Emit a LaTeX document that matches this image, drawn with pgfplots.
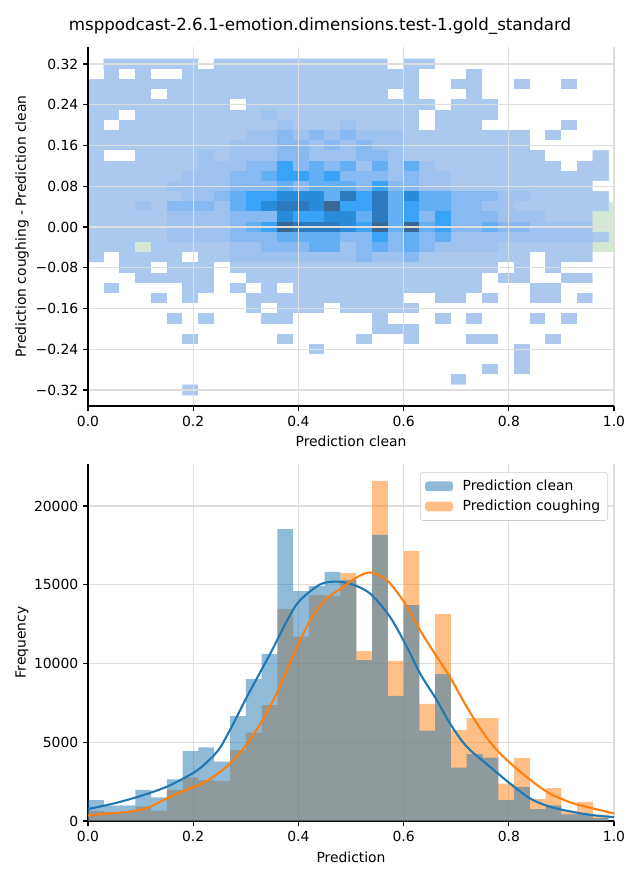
\documentclass[border=0pt]{standalone}
\usepackage{pgfplots}
\pgfplotsset{compat=1.18}
\usepackage{fontspec}
\setmainfont{DejaVu Sans}
\definecolor{c0}{HTML}{1F77B4}
\definecolor{c1}{HTML}{FF7F0E}
\definecolor{gridc}{RGB}{222,222,222}
\definecolor{dgreen}{HTML}{008000}
\definecolor{lgreen}{RGB}{213,232,211}
\definecolor{legb}{RGB}{143,187,217}
\definecolor{lego}{RGB}{255,191,134}
\pgfplotsset{
  base/.style={
    scale only axis, width=378.72pt,
    xmin=0, xmax=1,
    axis x line*=bottom, axis y line*=left,
    tick align=outside, major tick length=3.5pt,
    every tick/.style={black, line width=0.8pt},
    axis line style={line width=0.8pt, black},
    xmajorgrids, ymajorgrids, grid style={gridc, line width=0.8pt},
    tick label style={font=\fontsize{10}{12}\selectfont},
    label style={font=\fontsize{10}{12}\selectfont},
    scaled y ticks=false, scaled x ticks=false,
    xtick={0,0.2,0.4,0.6,0.8,1},
    xticklabels={0.0,0.2,0.4,0.6,0.8,1.0},
    every axis x label/.style={anchor=center},
    every axis y label/.style={anchor=center, rotate=90},
  }
}
\begin{document}
\begin{tikzpicture}
\useasboundingbox (-63.36pt,33.84pt) rectangle (397.44pt,-599.76pt);
\node[font=\fontsize{12}{14}\selectfont, inner sep=0pt] at (167.04pt,15.12pt) {msppodcast-2.6.1-emotion.dimensions.test-1.gold\_standard};
\begin{axis}[base, at={(0pt,0pt)}, anchor=north west, height=258.48pt,
  ymin=-0.3514, ymax=0.3534, axis on top,
  ytick={-0.32,-0.24,-0.16,-0.08,0,0.08,0.16,0.24,0.32},
  yticklabels={−0.32,−0.24,−0.16,−0.08,0.00,0.08,0.16,0.24,0.32},
  xlabel={Prediction clean}, ylabel={Prediction coughing - Prediction clean},
  xlabel style={at={(axis description cs:0.5,-0.0975)}},
  ylabel style={at={(axis description cs:-0.1255,0.5)}},
  colormap={hm}{rgb255=(255,255,255) rgb255=(171,201,238) rgb255=(158,195,240) rgb255=(135,186,242) rgb255=(100,174,244) rgb255=(58,163,246) rgb255=(42,140,216) rgb255=(45,121,190) rgb255=(58,104,150) rgb255=(213,232,211)},
]
\addplot[fill=lgreen, draw=none] coordinates {(0.99,-0.05) (1,-0.05) (1,0.05) (0.99,0.05)} -- cycle;
\addplot[matrix plot*, point meta=explicit, colormap access=direct, mesh/cols=33] table[meta index=2] {
x y c
0.015 0.32 0
0.045 0.32 1
0.075 0.32 1
0.105 0.32 1
0.135 0.32 1
0.165 0.32 1
0.195 0.32 1
0.225 0.32 0
0.255 0.32 1
0.285 0.32 1
0.315 0.32 1
0.345 0.32 1
0.375 0.32 1
0.405 0.32 1
0.435 0.32 1
0.465 0.32 1
0.495 0.32 1
0.525 0.32 1
0.555 0.32 1
0.585 0.32 0
0.615 0.32 1
0.645 0.32 1
0.675 0.32 0
0.705 0.32 0
0.735 0.32 0
0.765 0.32 0
0.795 0.32 0
0.825 0.32 0
0.855 0.32 0
0.885 0.32 0
0.915 0.32 0
0.945 0.32 0
0.975 0.32 0

0.015 0.30 0
0.045 0.30 1
0.075 0.30 0
0.105 0.30 1
0.135 0.30 0
0.165 0.30 0
0.195 0.30 1
0.225 0.30 1
0.255 0.30 1
0.285 0.30 1
0.315 0.30 1
0.345 0.30 1
0.375 0.30 1
0.405 0.30 1
0.435 0.30 1
0.465 0.30 1
0.495 0.30 1
0.525 0.30 1
0.555 0.30 1
0.585 0.30 1
0.615 0.30 1
0.645 0.30 0
0.675 0.30 0
0.705 0.30 0
0.735 0.30 1
0.765 0.30 0
0.795 0.30 0
0.825 0.30 0
0.855 0.30 0
0.885 0.30 0
0.915 0.30 0
0.945 0.30 0
0.975 0.30 0

0.015 0.28 1
0.045 0.28 1
0.075 0.28 1
0.105 0.28 1
0.135 0.28 1
0.165 0.28 1
0.195 0.28 1
0.225 0.28 1
0.255 0.28 1
0.285 0.28 1
0.315 0.28 1
0.345 0.28 1
0.375 0.28 1
0.405 0.28 1
0.435 0.28 1
0.465 0.28 1
0.495 0.28 1
0.525 0.28 1
0.555 0.28 1
0.585 0.28 1
0.615 0.28 1
0.645 0.28 0
0.675 0.28 0
0.705 0.28 1
0.735 0.28 1
0.765 0.28 0
0.795 0.28 0
0.825 0.28 1
0.855 0.28 0
0.885 0.28 0
0.915 0.28 1
0.945 0.28 0
0.975 0.28 0

0.015 0.26 1
0.045 0.26 1
0.075 0.26 1
0.105 0.26 1
0.135 0.26 0
0.165 0.26 1
0.195 0.26 1
0.225 0.26 1
0.255 0.26 1
0.285 0.26 1
0.315 0.26 1
0.345 0.26 1
0.375 0.26 1
0.405 0.26 1
0.435 0.26 1
0.465 0.26 1
0.495 0.26 1
0.525 0.26 1
0.555 0.26 1
0.585 0.26 0
0.615 0.26 1
0.645 0.26 0
0.675 0.26 0
0.705 0.26 0
0.735 0.26 1
0.765 0.26 0
0.795 0.26 0
0.825 0.26 0
0.855 0.26 0
0.885 0.26 0
0.915 0.26 0
0.945 0.26 0
0.975 0.26 0

0.015 0.24 1
0.045 0.24 1
0.075 0.24 1
0.105 0.24 1
0.135 0.24 1
0.165 0.24 1
0.195 0.24 1
0.225 0.24 1
0.255 0.24 1
0.285 0.24 0
0.315 0.24 1
0.345 0.24 1
0.375 0.24 1
0.405 0.24 1
0.435 0.24 1
0.465 0.24 1
0.495 0.24 1
0.525 0.24 1
0.555 0.24 1
0.585 0.24 1
0.615 0.24 1
0.645 0.24 1
0.675 0.24 0
0.705 0.24 1
0.735 0.24 1
0.765 0.24 1
0.795 0.24 0
0.825 0.24 0
0.855 0.24 0
0.885 0.24 0
0.915 0.24 0
0.945 0.24 0
0.975 0.24 0

0.015 0.22 1
0.045 0.22 1
0.075 0.22 0
0.105 0.22 1
0.135 0.22 1
0.165 0.22 1
0.195 0.22 1
0.225 0.22 1
0.255 0.22 1
0.285 0.22 1
0.315 0.22 1
0.345 0.22 2
0.375 0.22 1
0.405 0.22 1
0.435 0.22 1
0.465 0.22 1
0.495 0.22 1
0.525 0.22 1
0.555 0.22 1
0.585 0.22 1
0.615 0.22 1
0.645 0.22 0
0.675 0.22 1
0.705 0.22 1
0.735 0.22 1
0.765 0.22 1
0.795 0.22 0
0.825 0.22 0
0.855 0.22 0
0.885 0.22 0
0.915 0.22 0
0.945 0.22 0
0.975 0.22 0

0.015 0.20 1
0.045 0.20 0
0.075 0.20 1
0.105 0.20 1
0.135 0.20 1
0.165 0.20 1
0.195 0.20 1
0.225 0.20 1
0.255 0.20 1
0.285 0.20 1
0.315 0.20 1
0.345 0.20 1
0.375 0.20 2
0.405 0.20 1
0.435 0.20 1
0.465 0.20 1
0.495 0.20 2
0.525 0.20 1
0.555 0.20 1
0.585 0.20 1
0.615 0.20 1
0.645 0.20 0
0.675 0.20 1
0.705 0.20 1
0.735 0.20 1
0.765 0.20 0
0.795 0.20 0
0.825 0.20 0
0.855 0.20 0
0.885 0.20 0
0.915 0.20 1
0.945 0.20 0
0.975 0.20 0

0.015 0.18 1
0.045 0.18 1
0.075 0.18 1
0.105 0.18 1
0.135 0.18 1
0.165 0.18 1
0.195 0.18 1
0.225 0.18 1
0.255 0.18 1
0.285 0.18 1
0.315 0.18 2
0.345 0.18 2
0.375 0.18 3
0.405 0.18 2
0.435 0.18 3
0.465 0.18 2
0.495 0.18 3
0.525 0.18 2
0.555 0.18 2
0.585 0.18 2
0.615 0.18 1
0.645 0.18 1
0.675 0.18 1
0.705 0.18 1
0.735 0.18 1
0.765 0.18 1
0.795 0.18 1
0.825 0.18 1
0.855 0.18 0
0.885 0.18 1
0.915 0.18 0
0.945 0.18 0
0.975 0.18 0

0.015 0.16 1
0.045 0.16 1
0.075 0.16 1
0.105 0.16 1
0.135 0.16 1
0.165 0.16 1
0.195 0.16 1
0.225 0.16 1
0.255 0.16 1
0.285 0.16 2
0.315 0.16 2
0.345 0.16 2
0.375 0.16 3
0.405 0.16 3
0.435 0.16 2
0.465 0.16 3
0.495 0.16 2
0.525 0.16 3
0.555 0.16 2
0.585 0.16 2
0.615 0.16 1
0.645 0.16 1
0.675 0.16 1
0.705 0.16 1
0.735 0.16 1
0.765 0.16 1
0.795 0.16 1
0.825 0.16 1
0.855 0.16 0
0.885 0.16 0
0.915 0.16 0
0.945 0.16 0
0.975 0.16 0

0.015 0.14 1
0.045 0.14 0
0.075 0.14 0
0.105 0.14 1
0.135 0.14 1
0.165 0.14 1
0.195 0.14 1
0.225 0.14 2
0.255 0.14 1
0.285 0.14 2
0.315 0.14 2
0.345 0.14 2
0.375 0.14 3
0.405 0.14 3
0.435 0.14 2
0.465 0.14 2
0.495 0.14 2
0.525 0.14 3
0.555 0.14 3
0.585 0.14 2
0.615 0.14 1
0.645 0.14 1
0.675 0.14 1
0.705 0.14 1
0.735 0.14 1
0.765 0.14 1
0.795 0.14 1
0.825 0.14 1
0.855 0.14 1
0.885 0.14 0
0.915 0.14 0
0.945 0.14 0
0.975 0.14 1

0.015 0.12 1
0.045 0.12 1
0.075 0.12 1
0.105 0.12 1
0.135 0.12 1
0.165 0.12 1
0.195 0.12 1
0.225 0.12 2
0.255 0.12 2
0.285 0.12 2
0.315 0.12 3
0.345 0.12 3
0.375 0.12 5
0.405 0.12 3
0.435 0.12 4
0.465 0.12 3
0.495 0.12 4
0.525 0.12 2
0.555 0.12 4
0.585 0.12 2
0.615 0.12 4
0.645 0.12 2
0.675 0.12 1
0.705 0.12 1
0.735 0.12 1
0.765 0.12 1
0.795 0.12 1
0.825 0.12 1
0.855 0.12 1
0.885 0.12 1
0.915 0.12 0
0.945 0.12 1
0.975 0.12 1

0.015 0.10 1
0.045 0.10 1
0.075 0.10 1
0.105 0.10 1
0.135 0.10 1
0.165 0.10 1
0.195 0.10 2
0.225 0.10 2
0.255 0.10 2
0.285 0.10 3
0.315 0.10 3
0.345 0.10 4
0.375 0.10 5
0.405 0.10 5
0.435 0.10 4
0.465 0.10 5
0.495 0.10 3
0.525 0.10 3
0.555 0.10 3
0.585 0.10 2
0.615 0.10 3
0.645 0.10 2
0.675 0.10 2
0.705 0.10 1
0.735 0.10 1
0.765 0.10 1
0.795 0.10 1
0.825 0.10 1
0.855 0.10 1
0.885 0.10 1
0.915 0.10 1
0.945 0.10 1
0.975 0.10 1

0.015 0.08 1
0.045 0.08 1
0.075 0.08 1
0.105 0.08 1
0.135 0.08 1
0.165 0.08 2
0.195 0.08 2
0.225 0.08 2
0.255 0.08 2
0.285 0.08 3
0.315 0.08 3
0.345 0.08 3
0.375 0.08 4
0.405 0.08 3
0.435 0.08 4
0.465 0.08 4
0.495 0.08 4
0.525 0.08 3
0.555 0.08 5
0.585 0.08 3
0.615 0.08 3
0.645 0.08 2
0.675 0.08 2
0.705 0.08 1
0.735 0.08 1
0.765 0.08 1
0.795 0.08 1
0.825 0.08 1
0.855 0.08 1
0.885 0.08 1
0.915 0.08 1
0.945 0.08 1
0.975 0.08 0

0.015 0.06 1
0.045 0.06 1
0.075 0.06 1
0.105 0.06 1
0.135 0.06 1
0.165 0.06 1
0.195 0.06 2
0.225 0.06 2
0.255 0.06 3
0.285 0.06 4
0.315 0.06 5
0.345 0.06 5
0.375 0.06 6
0.405 0.06 6
0.435 0.06 6
0.465 0.06 4
0.495 0.06 7
0.525 0.06 5
0.555 0.06 7
0.585 0.06 4
0.615 0.06 6
0.645 0.06 4
0.675 0.06 4
0.705 0.06 3
0.735 0.06 3
0.765 0.06 3
0.795 0.06 2
0.825 0.06 2
0.855 0.06 1
0.885 0.06 1
0.915 0.06 1
0.945 0.06 1
0.975 0.06 1

0.015 0.04 1
0.045 0.04 1
0.075 0.04 1
0.105 0.04 2
0.135 0.04 1
0.165 0.04 3
0.195 0.04 3
0.225 0.04 3
0.255 0.04 2
0.285 0.04 4
0.315 0.04 5
0.345 0.04 6
0.375 0.04 7
0.405 0.04 7
0.435 0.04 6
0.465 0.04 8
0.495 0.04 5
0.525 0.04 5
0.555 0.04 7
0.585 0.04 4
0.615 0.04 5
0.645 0.04 4
0.675 0.04 4
0.705 0.04 3
0.735 0.04 3
0.765 0.04 2
0.795 0.04 2
0.825 0.04 1
0.855 0.04 1
0.885 0.04 1
0.915 0.04 1
0.945 0.04 1
0.975 0.04 1

0.015 0.02 1
0.045 0.02 1
0.075 0.02 1
0.105 0.02 1
0.135 0.02 1
0.165 0.02 2
0.195 0.02 2
0.225 0.02 2
0.255 0.02 2
0.285 0.02 3
0.315 0.02 3
0.345 0.02 3
0.375 0.02 6
0.405 0.02 5
0.435 0.02 5
0.465 0.02 6
0.495 0.02 6
0.525 0.02 4
0.555 0.02 7
0.585 0.02 4
0.615 0.02 5
0.645 0.02 3
0.675 0.02 5
0.705 0.02 3
0.735 0.02 3
0.765 0.02 3
0.795 0.02 2
0.825 0.02 2
0.855 0.02 2
0.885 0.02 1
0.915 0.02 1
0.945 0.02 1
0.975 0.02 9

0.015 0 1
0.045 0 1
0.075 0 1
0.105 0 1
0.135 0 1
0.165 0 2
0.195 0 2
0.225 0 2
0.255 0 2
0.285 0 3
0.315 0 4
0.345 0 5
0.375 0 8
0.405 0 7
0.435 0 7
0.465 0 7
0.495 0 6
0.525 0 5
0.555 0 8
0.585 0 4
0.615 0 8
0.645 0 4
0.675 0 5
0.705 0 3
0.735 0 3
0.765 0 4
0.795 0 3
0.825 0 3
0.855 0 2
0.885 0 2
0.915 0 2
0.945 0 2
0.975 0 9

0.015 -0.02 1
0.045 -0.02 1
0.075 -0.02 1
0.105 -0.02 1
0.135 -0.02 1
0.165 -0.02 2
0.195 -0.02 2
0.225 -0.02 2
0.255 -0.02 2
0.285 -0.02 3
0.315 -0.02 3
0.345 -0.02 3
0.375 -0.02 4
0.405 -0.02 4
0.435 -0.02 4
0.465 -0.02 4
0.495 -0.02 3
0.525 -0.02 3
0.555 -0.02 5
0.585 -0.02 3
0.615 -0.02 4
0.645 -0.02 3
0.675 -0.02 4
0.705 -0.02 2
0.735 -0.02 2
0.765 -0.02 2
0.795 -0.02 2
0.825 -0.02 2
0.855 -0.02 2
0.885 -0.02 2
0.915 -0.02 2
0.945 -0.02 2
0.975 -0.02 1

0.015 -0.04 1
0.045 -0.04 1
0.075 -0.04 1
0.105 -0.04 9
0.135 -0.04 1
0.165 -0.04 1
0.195 -0.04 1
0.225 -0.04 1
0.255 -0.04 1
0.285 -0.04 2
0.315 -0.04 2
0.345 -0.04 3
0.375 -0.04 3
0.405 -0.04 3
0.435 -0.04 4
0.465 -0.04 4
0.495 -0.04 2
0.525 -0.04 3
0.555 -0.04 4
0.585 -0.04 3
0.615 -0.04 4
0.645 -0.04 3
0.675 -0.04 2
0.705 -0.04 2
0.735 -0.04 2
0.765 -0.04 2
0.795 -0.04 1
0.825 -0.04 1
0.855 -0.04 1
0.885 -0.04 1
0.915 -0.04 1
0.945 -0.04 1
0.975 -0.04 9

0.015 -0.06 1
0.045 -0.06 0
0.075 -0.06 1
0.105 -0.06 1
0.135 -0.06 1
0.165 -0.06 1
0.195 -0.06 0
0.225 -0.06 1
0.255 -0.06 1
0.285 -0.06 2
0.315 -0.06 2
0.345 -0.06 2
0.375 -0.06 2
0.405 -0.06 2
0.435 -0.06 2
0.465 -0.06 2
0.495 -0.06 2
0.525 -0.06 3
0.555 -0.06 2
0.585 -0.06 2
0.615 -0.06 3
0.645 -0.06 1
0.675 -0.06 1
0.705 -0.06 1
0.735 -0.06 1
0.765 -0.06 1
0.795 -0.06 1
0.825 -0.06 1
0.855 -0.06 0
0.885 -0.06 1
0.915 -0.06 1
0.945 -0.06 1
0.975 -0.06 0

0.015 -0.08 0
0.045 -0.08 0
0.075 -0.08 1
0.105 -0.08 1
0.135 -0.08 0
0.165 -0.08 1
0.195 -0.08 1
0.225 -0.08 1
0.255 -0.08 0
0.285 -0.08 1
0.315 -0.08 1
0.345 -0.08 1
0.375 -0.08 1
0.405 -0.08 1
0.435 -0.08 1
0.465 -0.08 1
0.495 -0.08 1
0.525 -0.08 1
0.555 -0.08 1
0.585 -0.08 1
0.615 -0.08 1
0.645 -0.08 1
0.675 -0.08 1
0.705 -0.08 1
0.735 -0.08 1
0.765 -0.08 1
0.795 -0.08 0
0.825 -0.08 1
0.855 -0.08 0
0.885 -0.08 1
0.915 -0.08 0
0.945 -0.08 0
0.975 -0.08 0

0.015 -0.10 0
0.045 -0.10 0
0.075 -0.10 0
0.105 -0.10 1
0.135 -0.10 1
0.165 -0.10 1
0.195 -0.10 1
0.225 -0.10 1
0.255 -0.10 0
0.285 -0.10 0
0.315 -0.10 1
0.345 -0.10 1
0.375 -0.10 1
0.405 -0.10 1
0.435 -0.10 1
0.465 -0.10 1
0.495 -0.10 1
0.525 -0.10 1
0.555 -0.10 1
0.585 -0.10 1
0.615 -0.10 1
0.645 -0.10 1
0.675 -0.10 1
0.705 -0.10 1
0.735 -0.10 1
0.765 -0.10 0
0.795 -0.10 1
0.825 -0.10 1
0.855 -0.10 0
0.885 -0.10 0
0.915 -0.10 1
0.945 -0.10 1
0.975 -0.10 0

0.015 -0.12 0
0.045 -0.12 1
0.075 -0.12 0
0.105 -0.12 0
0.135 -0.12 0
0.165 -0.12 0
0.195 -0.12 1
0.225 -0.12 1
0.255 -0.12 0
0.285 -0.12 1
0.315 -0.12 0
0.345 -0.12 1
0.375 -0.12 0
0.405 -0.12 1
0.435 -0.12 1
0.465 -0.12 1
0.495 -0.12 1
0.525 -0.12 1
0.555 -0.12 1
0.585 -0.12 1
0.615 -0.12 1
0.645 -0.12 1
0.675 -0.12 1
0.705 -0.12 1
0.735 -0.12 1
0.765 -0.12 0
0.795 -0.12 0
0.825 -0.12 0
0.855 -0.12 1
0.885 -0.12 1
0.915 -0.12 0
0.945 -0.12 0
0.975 -0.12 0

0.015 -0.14 0
0.045 -0.14 0
0.075 -0.14 0
0.105 -0.14 0
0.135 -0.14 1
0.165 -0.14 0
0.195 -0.14 1
0.225 -0.14 0
0.255 -0.14 0
0.285 -0.14 0
0.315 -0.14 1
0.345 -0.14 1
0.375 -0.14 1
0.405 -0.14 1
0.435 -0.14 1
0.465 -0.14 1
0.495 -0.14 1
0.525 -0.14 1
0.555 -0.14 1
0.585 -0.14 1
0.615 -0.14 0
0.645 -0.14 0
0.675 -0.14 1
0.705 -0.14 1
0.735 -0.14 0
0.765 -0.14 1
0.795 -0.14 0
0.825 -0.14 0
0.855 -0.14 1
0.885 -0.14 1
0.915 -0.14 0
0.945 -0.14 1
0.975 -0.14 0

0.015 -0.16 0
0.045 -0.16 0
0.075 -0.16 0
0.105 -0.16 0
0.135 -0.16 0
0.165 -0.16 0
0.195 -0.16 0
0.225 -0.16 0
0.255 -0.16 0
0.285 -0.16 0
0.315 -0.16 1
0.345 -0.16 0
0.375 -0.16 1
0.405 -0.16 1
0.435 -0.16 1
0.465 -0.16 0
0.495 -0.16 1
0.525 -0.16 1
0.555 -0.16 1
0.585 -0.16 1
0.615 -0.16 1
0.645 -0.16 0
0.675 -0.16 0
0.705 -0.16 0
0.735 -0.16 0
0.765 -0.16 0
0.795 -0.16 0
0.825 -0.16 0
0.855 -0.16 0
0.885 -0.16 0
0.915 -0.16 0
0.945 -0.16 0
0.975 -0.16 0

0.015 -0.18 0
0.045 -0.18 0
0.075 -0.18 0
0.105 -0.18 0
0.135 -0.18 0
0.165 -0.18 1
0.195 -0.18 0
0.225 -0.18 1
0.255 -0.18 0
0.285 -0.18 0
0.315 -0.18 0
0.345 -0.18 1
0.375 -0.18 1
0.405 -0.18 0
0.435 -0.18 0
0.465 -0.18 0
0.495 -0.18 0
0.525 -0.18 0
0.555 -0.18 1
0.585 -0.18 0
0.615 -0.18 0
0.645 -0.18 0
0.675 -0.18 1
0.705 -0.18 0
0.735 -0.18 1
0.765 -0.18 0
0.795 -0.18 0
0.825 -0.18 0
0.855 -0.18 1
0.885 -0.18 0
0.915 -0.18 1
0.945 -0.18 0
0.975 -0.18 0

0.015 -0.20 0
0.045 -0.20 0
0.075 -0.20 0
0.105 -0.20 0
0.135 -0.20 0
0.165 -0.20 0
0.195 -0.20 0
0.225 -0.20 0
0.255 -0.20 0
0.285 -0.20 0
0.315 -0.20 0
0.345 -0.20 0
0.375 -0.20 0
0.405 -0.20 0
0.435 -0.20 0
0.465 -0.20 0
0.495 -0.20 0
0.525 -0.20 0
0.555 -0.20 1
0.585 -0.20 1
0.615 -0.20 1
0.645 -0.20 0
0.675 -0.20 0
0.705 -0.20 0
0.735 -0.20 0
0.765 -0.20 0
0.795 -0.20 0
0.825 -0.20 0
0.855 -0.20 0
0.885 -0.20 0
0.915 -0.20 0
0.945 -0.20 0
0.975 -0.20 0

0.015 -0.22 0
0.045 -0.22 0
0.075 -0.22 0
0.105 -0.22 0
0.135 -0.22 0
0.165 -0.22 0
0.195 -0.22 1
0.225 -0.22 0
0.255 -0.22 0
0.285 -0.22 0
0.315 -0.22 0
0.345 -0.22 0
0.375 -0.22 1
0.405 -0.22 0
0.435 -0.22 0
0.465 -0.22 0
0.495 -0.22 0
0.525 -0.22 1
0.555 -0.22 0
0.585 -0.22 0
0.615 -0.22 1
0.645 -0.22 0
0.675 -0.22 0
0.705 -0.22 0
0.735 -0.22 1
0.765 -0.22 1
0.795 -0.22 0
0.825 -0.22 0
0.855 -0.22 0
0.885 -0.22 1
0.915 -0.22 0
0.945 -0.22 0
0.975 -0.22 0

0.015 -0.24 0
0.045 -0.24 0
0.075 -0.24 0
0.105 -0.24 0
0.135 -0.24 0
0.165 -0.24 0
0.195 -0.24 0
0.225 -0.24 0
0.255 -0.24 0
0.285 -0.24 0
0.315 -0.24 0
0.345 -0.24 0
0.375 -0.24 0
0.405 -0.24 0
0.435 -0.24 1
0.465 -0.24 0
0.495 -0.24 0
0.525 -0.24 0
0.555 -0.24 0
0.585 -0.24 0
0.615 -0.24 0
0.645 -0.24 0
0.675 -0.24 0
0.705 -0.24 0
0.735 -0.24 0
0.765 -0.24 0
0.795 -0.24 0
0.825 -0.24 1
0.855 -0.24 0
0.885 -0.24 0
0.915 -0.24 0
0.945 -0.24 0
0.975 -0.24 0

0.015 -0.26 0
0.045 -0.26 0
0.075 -0.26 0
0.105 -0.26 0
0.135 -0.26 0
0.165 -0.26 0
0.195 -0.26 0
0.225 -0.26 0
0.255 -0.26 0
0.285 -0.26 0
0.315 -0.26 0
0.345 -0.26 0
0.375 -0.26 0
0.405 -0.26 0
0.435 -0.26 0
0.465 -0.26 0
0.495 -0.26 0
0.525 -0.26 0
0.555 -0.26 0
0.585 -0.26 0
0.615 -0.26 0
0.645 -0.26 0
0.675 -0.26 0
0.705 -0.26 0
0.735 -0.26 0
0.765 -0.26 0
0.795 -0.26 0
0.825 -0.26 1
0.855 -0.26 0
0.885 -0.26 0
0.915 -0.26 0
0.945 -0.26 0
0.975 -0.26 0

0.015 -0.28 0
0.045 -0.28 0
0.075 -0.28 0
0.105 -0.28 0
0.135 -0.28 0
0.165 -0.28 0
0.195 -0.28 0
0.225 -0.28 0
0.255 -0.28 0
0.285 -0.28 0
0.315 -0.28 0
0.345 -0.28 0
0.375 -0.28 0
0.405 -0.28 0
0.435 -0.28 0
0.465 -0.28 0
0.495 -0.28 0
0.525 -0.28 0
0.555 -0.28 0
0.585 -0.28 0
0.615 -0.28 0
0.645 -0.28 0
0.675 -0.28 0
0.705 -0.28 0
0.735 -0.28 0
0.765 -0.28 1
0.795 -0.28 0
0.825 -0.28 1
0.855 -0.28 0
0.885 -0.28 0
0.915 -0.28 0
0.945 -0.28 0
0.975 -0.28 0

0.015 -0.30 0
0.045 -0.30 0
0.075 -0.30 0
0.105 -0.30 0
0.135 -0.30 0
0.165 -0.30 0
0.195 -0.30 0
0.225 -0.30 0
0.255 -0.30 0
0.285 -0.30 0
0.315 -0.30 0
0.345 -0.30 0
0.375 -0.30 0
0.405 -0.30 0
0.435 -0.30 0
0.465 -0.30 0
0.495 -0.30 0
0.525 -0.30 0
0.555 -0.30 0
0.585 -0.30 0
0.615 -0.30 0
0.645 -0.30 0
0.675 -0.30 0
0.705 -0.30 1
0.735 -0.30 0
0.765 -0.30 0
0.795 -0.30 0
0.825 -0.30 0
0.855 -0.30 0
0.885 -0.30 0
0.915 -0.30 0
0.945 -0.30 0
0.975 -0.30 0

0.015 -0.32 0
0.045 -0.32 0
0.075 -0.32 0
0.105 -0.32 0
0.135 -0.32 0
0.165 -0.32 0
0.195 -0.32 1
0.225 -0.32 0
0.255 -0.32 0
0.285 -0.32 0
0.315 -0.32 0
0.345 -0.32 0
0.375 -0.32 0
0.405 -0.32 0
0.435 -0.32 0
0.465 -0.32 0
0.495 -0.32 0
0.525 -0.32 0
0.555 -0.32 0
0.585 -0.32 0
0.615 -0.32 0
0.645 -0.32 0
0.675 -0.32 0
0.705 -0.32 0
0.735 -0.32 0
0.765 -0.32 0
0.795 -0.32 0
0.825 -0.32 0
0.855 -0.32 0
0.885 -0.32 0
0.915 -0.32 0
0.945 -0.32 0
0.975 -0.32 0
};
\addplot[dgreen, line width=1.5pt, dash pattern=on 5.55pt off 2.4pt] coordinates {(0,0) (1,0)};
\end{axis}

\begin{axis}[base, at={(0pt,-300.24pt)}, anchor=north west, height=257.04pt,
  ymin=0, ymax=22667,
  ytick={0,5000,10000,15000,20000}, yticklabels={0,5000,10000,15000,20000},
  xlabel={Prediction}, ylabel={Frequency},
  xlabel style={at={(axis description cs:0.5,-0.1008)}},
  ylabel style={at={(axis description cs:-0.1255,0.5)}},
  legend cell align=left,
  legend image code/.code={\fill[#1] (0pt,-3.5pt) rectangle (20pt,3.5pt);},
  legend style={at={(1,1)}, anchor=north east, xshift=-4.3pt, yshift=-5.8pt,
    draw=black!20, rounded corners=2pt, fill=white,
    font=\fontsize{10}{12}\selectfont, row sep=1.5pt, column sep=5pt,
    inner xsep=3.5pt, inner ysep=3.5pt},
]
\addlegendimage{fill=legb, draw=none}
\addlegendentry{Prediction clean}
\addlegendimage{fill=lego, draw=none}
\addlegendentry{Prediction coughing}
\addplot[const plot, fill=c1, fill opacity=0.5, draw=none, forget plot] coordinates {
(0.00,620) (0.03,560) (0.06,600) (0.09,930) (0.12,655) (0.15,1968) (0.18,2772) (0.21,2603)
(0.24,2540) (0.27,4508) (0.30,5608) (0.33,7365) (0.36,13460) (0.39,11703) (0.42,14349)
(0.45,14300) (0.48,15740) (0.51,10790) (0.54,21590) (0.57,10160) (0.60,17143) (0.63,7429)
(0.66,13143) (0.69,5778) (0.72,6540) (0.75,6540) (0.78,2370) (0.81,4010) (0.84,1390)
(0.87,2085) (0.90,620) (0.93,1220) (0.96,400) (0.99,400)} \closedcycle;
\addplot[const plot, fill=c0, fill opacity=0.5, draw=none, forget plot] coordinates {
(0.00,1330) (0.03,980) (0.06,1000) (0.09,1970) (0.12,1500) (0.15,2646) (0.18,4444) (0.21,4677)
(0.24,3767) (0.27,6667) (0.30,9016) (0.33,10603) (0.36,18540) (0.39,14603) (0.42,14920)
(0.45,15810) (0.48,15300) (0.51,10220) (0.54,18160) (0.57,7940) (0.60,13714) (0.63,5735)
(0.66,9333) (0.69,3386) (0.72,4254) (0.75,4021) (0.78,1333) (0.81,2160) (0.84,762)
(0.87,1000) (0.90,420) (0.93,430) (0.96,180) (0.99,180)} \closedcycle;
\addplot[c0, line width=1.5pt, smooth, forget plot] coordinates {
(0.00,760) (0.05,1120) (0.10,1590) (0.15,2180) (0.20,3050) (0.225,3700) (0.25,4600)
(0.275,6100) (0.30,7750) (0.325,9300) (0.35,10850) (0.375,12500) (0.40,13900)
(0.44,15000) (0.47,15200) (0.50,15050) (0.536,14450)
(0.574,12970) (0.606,11070) (0.631,9380) (0.663,7680) (0.688,6200) (0.72,4720)
(0.764,3450) (0.802,2390) (0.84,1440) (0.878,910) (0.929,530) (0.97,330) (1.00,250)};
\addplot[c1, line width=1.5pt, smooth, forget plot] coordinates {
(0.00,350) (0.04,480) (0.08,600) (0.11,800) (0.13,1100) (0.155,1520) (0.185,1950)
(0.215,2350) (0.24,2850) (0.27,3650) (0.30,4800) (0.33,6300) (0.36,8200) (0.39,10500)
(0.42,12600) (0.45,14000) (0.48,14750) (0.51,15450) (0.536,15780) (0.568,15300)
(0.60,13950) (0.631,12130) (0.663,10430) (0.688,9150) (0.72,7250) (0.752,5570)
(0.783,4300) (0.83,2900) (0.875,1800) (0.92,1150) (0.96,800) (1.00,480)};
\end{axis}
\end{tikzpicture}
\end{document}
